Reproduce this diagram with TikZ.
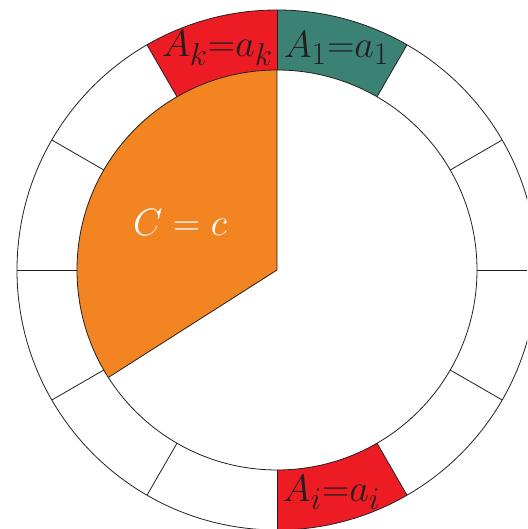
\documentclass[tikz,border=0pt]{standalone}
\usepackage{graphicx}
\definecolor{segred}{RGB}{237,28,36}
\definecolor{seggreen}{RGB}{60,130,116}
\definecolor{segorange}{RGB}{242,133,34}
\definecolor{ink}{RGB}{35,31,32}
\newcommand{\biglabel}[1]{\scalebox{1.53}{\Huge #1}}
\tikzset{
  ringline/.style={draw=ink, line width=0.8pt},
  seglabel/.style={text=ink, inner sep=0pt},
  sectorlabel/.style={text=white, inner sep=0pt}
}
\begin{document}
\begin{tikzpicture}[x=1pt,y=1pt]
\useasboundingbox (-277,-259) rectangle (250,270);
\clip (-277,-259) rectangle (250,270);
% coloured segments
\fill[segred] (90:200) arc (90:120:200) -- (120:260) arc (120:90:260) -- cycle;
\fill[seggreen] (60:200) arc (60:90:200) -- (90:260) arc (90:60:260) -- cycle;
\fill[segred] (270:200) arc (270:300:200) -- (300:260) arc (300:270:260) -- cycle;
% orange sector
\coordinate (o) at (0,0);
\coordinate (top) at (90:200);
\coordinate (lowleft) at (212.5:200);
\fill[segorange] (o) -- (top) arc (90:212.5:200) -- cycle;
% circles
\draw[ringline] (0,0) circle (200);
\draw[ringline] (0,0) circle (260);
% spokes
\foreach \a in {0,30,...,330} {
  \draw[ringline] (\a:200) -- (\a:260);
}
\draw[ringline] (top) -- (o) -- (lowleft);
% labels
\node[seglabel] (ak) at (105:230) {\biglabel{$A_k{=}a_k$}};
\node[seglabel] (a1) at (75:230) {\biglabel{$A_1{=}a_1$}};
\node[seglabel] (ai) at ([xshift=-5pt]285:230) {\biglabel{$A_i{=}a_i$}};
\node[sectorlabel] (c) at (-97,48) {\biglabel{$C=c$}};
\end{tikzpicture}
\end{document}
